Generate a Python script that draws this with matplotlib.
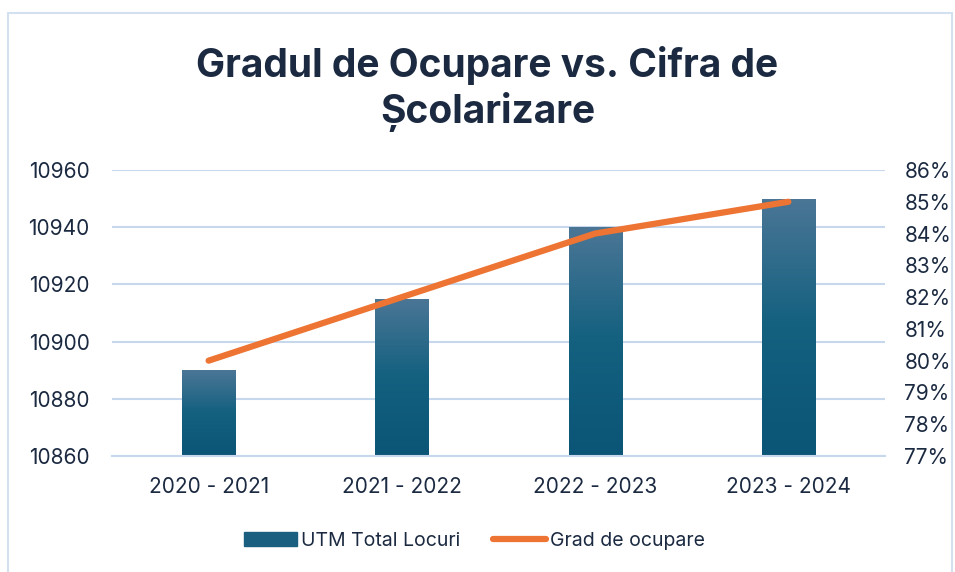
import numpy as np
import matplotlib.pyplot as plt
from matplotlib.patches import Rectangle
from matplotlib.lines import Line2D
from matplotlib.colors import LinearSegmentedColormap
from matplotlib.ticker import FuncFormatter

years = ['2020 - 2021', '2021 - 2022', '2022 - 2023', '2023 - 2024']
locuri = [10890, 10915, 10940, 10950]
grad = [80, 82, 84, 85]

plt.rcParams['font.family'] = ['Inter', 'DejaVu Sans']
txt = '#1b2a41'
grid_c = '#c8d8ec'

fig = plt.figure(figsize=(9.55, 5.72), dpi=100)
fig.patches.append(Rectangle((8/955, -0.05), 944/955, 1 - 13/572 + 0.05,
                             transform=fig.transFigure, fill=False,
                             edgecolor='#d3e0f0', lw=1.5))

ax = fig.add_axes([112/955, 1 - 456/572, 773/955, 286/572])
ax2 = ax.twinx()

x = np.arange(len(years))
bars = ax.bar(x, locuri, width=0.275, color='#1a5f80', zorder=2)
cmap = LinearSegmentedColormap.from_list('g', ['#0b5577', '#13607f', '#4b7696'])
grad_img = np.linspace(0, 1, 256).reshape(-1, 1)
for b in bars:
    bx = b.get_x()
    im = ax.imshow(grad_img, cmap=cmap, aspect='auto', origin='lower',
                   extent=[bx, bx + b.get_width(), 10860, b.get_height()], zorder=2)
    im.set_clip_path(b)
    b.set_alpha(0)

ax.set_xlim(-0.5, 3.5)
ax.set_ylim(10860, 10960)
ax.set_yticks(range(10860, 10961, 20))
ax.set_xticks(x)
ax.set_xticklabels(years)
ax.grid(axis='y', color=grid_c, lw=1.5, zorder=0)
ax.set_axisbelow(True)

ax2.plot(x, grad, color='#ed7433', lw=4.5, solid_capstyle='round', zorder=3)
ax2.set_ylim(77, 86)
ax2.set_yticks(range(77, 87))
ax2.yaxis.set_major_formatter(FuncFormatter(lambda v, p: f'{v:.0f}%'))

for a in (ax, ax2):
    for s in a.spines.values():
        s.set_visible(False)
    a.tick_params(length=0, labelsize=15, colors=txt)
ax.spines['bottom'].set_visible(True)
ax.spines['bottom'].set_color(grid_c)
ax.spines['bottom'].set_linewidth(1.5)
ax.tick_params(axis='x', pad=15)
ax.tick_params(axis='y', pad=16)
ax2.tick_params(axis='y', pad=14)

fig.text(0.5 + 10/955, 1 - 89/572, 'Gradul de Ocupare vs. Cifra de\nȘcolarizare', ha='center', va='center',
         fontsize=28, fontweight='bold', color=txt, linespacing=1.2)

handles = [Rectangle((0, 0), 1, 1, color='#1a5f80'),
           Line2D([0], [0], color='#ed7433', lw=4.5, solid_capstyle='round')]
fig.legend(handles, ['UTM Total Locuri', 'Grad de ocupare'], loc='center',
           bbox_to_anchor=(0.5 - 3/955, 1 - 541/572), ncol=2, frameon=False, fontsize=14,
           labelcolor=txt, handlelength=2.7, handletextpad=0.2, columnspacing=1.7)

fig.savefig('out.png', dpi=100)
